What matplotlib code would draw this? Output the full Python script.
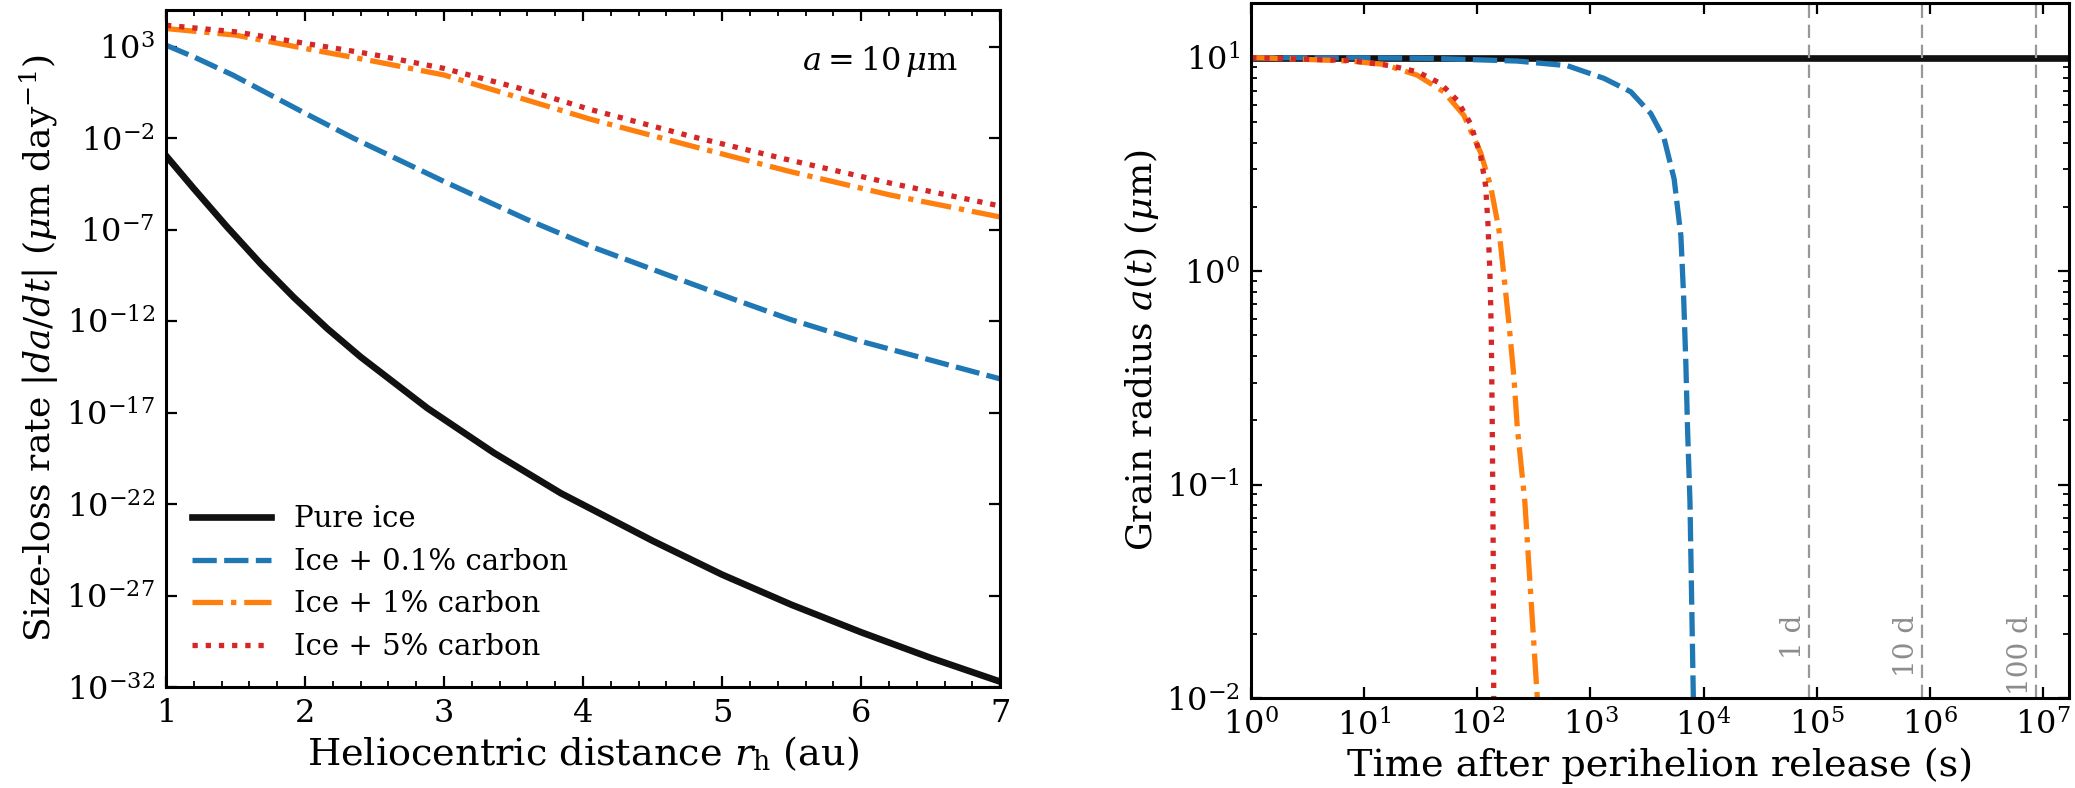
import matplotlib
matplotlib.use("Agg")
import matplotlib.pyplot as plt
import numpy as np
from matplotlib.ticker import MultipleLocator, NullLocator, LogLocator

plt.rcParams["font.family"] = ["DejaVu Serif"]
plt.rcParams["mathtext.fontset"] = "dejavuserif"
plt.rcParams["axes.linewidth"] = 2.2

# left panel: size-loss rate |da/dt| (um/day) vs r_h (au), stored as log10
r_pure = [1.0, 1.2, 1.44, 1.68, 1.92, 2.16, 2.4, 2.88, 3.36, 3.84, 4.5, 5.0, 5.5, 6.0, 6.5, 7.0]
lograte_pure = [-2.95, -4.75, -6.85, -8.85, -10.7, -12.4, -13.95, -16.75, -19.2, -21.4,
                -24.0, -25.85, -27.5, -29.0, -30.4, -31.7]

r_c01 = [1.0, 1.2, 1.48, 2.0, 2.35, 3.0, 3.6, 4.07, 4.69, 5.085, 5.49, 6.0, 7.0]
lograte_c01 = [3.09, 2.45, 1.46, -0.63, -2.0, -4.36, -6.45, -7.95, -9.7, -10.8, -11.9,
               -13.1, -15.15]

r_c1 = [1.0, 1.5, 2.0, 2.49, 3.0, 3.57, 4.05, 4.77, 5.49, 6.21, 7.0]
lograte_c1 = [4.0, 3.64, 2.91, 2.22, 1.46, 0.15, -0.95, -2.4, -3.82, -5.1, -6.3]

r_c5 = [1.0, 1.5, 2.0, 2.49, 3.0, 3.57, 4.05, 4.77, 5.49, 6.21, 7.0]
lograte_c5 = [4.18, 3.82, 3.19, 2.58, 1.82, 0.68, -0.42, -1.88, -3.2, -4.45, -5.7]

# right panel: grain radius (um) vs time after release (s)
t_pure = [1.0, 1.7e7]
a_pure = [10.0, 10.0]

t_c01 = [1, 10, 41, 225, 625, 1318, 2275, 3420, 4490, 5500, 6310, 6670, 6980, 7230, 7590, 8130]
a_c01 = [10.0, 9.98, 9.92, 9.64, 9.17, 8.0, 6.92, 5.47, 4.17, 2.70, 1.46, 0.76, 0.37, 0.18,
         0.083, 0.01]

t_c1 = [1, 1.93, 7.5, 14.9, 29.4, 50.5, 75.9, 106.7, 130.9, 154.9, 171.8, 190.1, 210.4,
        225.4, 263, 339]
a_c1 = [10.0, 9.9, 9.64, 9.3, 8.28, 6.92, 5.37, 3.6, 2.51, 1.57, 0.95, 0.57, 0.32, 0.186,
        0.083, 0.01]

t_c5 = [1, 7.5, 17.0, 29.4, 47.2, 66.4, 87.1, 106.7, 118.3, 123.9, 129.1, 132.7, 135.5,
        138.0, 139.6]
a_c5 = [10.0, 9.7, 9.17, 8.59, 7.57, 6.31, 4.9, 3.48, 2.51, 1.69, 0.98, 0.53, 0.186, 0.05,
        0.01]

days = [1, 10, 100]
day_labels = ["1 d", "10 d", "100 d"]
SEC_PER_DAY = 86400.0

labels = ["Pure ice", "Ice + 0.1% carbon", "Ice + 1% carbon", "Ice + 5% carbon"]
colors = ["#111111", "#1f77b4", "#ff7f0e", "#d62728"]
styles = [dict(ls="-", lw=4.8),
          dict(ls=(0, (4.6, 1.4)), lw=3.8),
          dict(ls=(0, (5.8, 1.5, 1.0, 1.5)), lw=3.8),
          dict(ls=(0, (1.0, 1.5)), lw=3.8)]

fig = plt.figure(figsize=(20.75, 7.88), dpi=100)
ax1 = fig.add_axes([0.080, 0.128, 0.402, 0.859])
ax2 = fig.add_axes([0.603, 0.114, 0.394, 0.882])

left_series = [(r_pure, lograte_pure), (r_c01, lograte_c01), (r_c1, lograte_c1), (r_c5, lograte_c5)]
for (r, lr), lab, c, st in zip(left_series, labels, colors, styles):
    ax1.plot(r, 10.0 ** np.array(lr), color=c, label=lab, **st)
ax1.set_yscale("log")
ax1.set_xlim(1, 7)
ax1.set_ylim(1e-32, 1e5)
ax1.set_yticks([1e-32, 1e-27, 1e-22, 1e-17, 1e-12, 1e-7, 1e-2, 1e3])
ax1.yaxis.set_minor_locator(NullLocator())
ax1.xaxis.set_minor_locator(MultipleLocator(0.2))
ax1.set_xlabel(r"Heliocentric distance $r_{\rm h}$ (au)", fontsize=27.5)
ax1.set_ylabel(r"Size-loss rate $|da/dt|$ ($\mu$m day$^{-1}$)", fontsize=26)
ax1.text(0.95, 0.925, r"$a = 10\,\mu{\rm m}$", transform=ax1.transAxes,
         ha="right", va="center", fontsize=23)
ax1.legend(loc="lower left", frameon=False, fontsize=21, handlelength=2.7,
           handletextpad=0.8, labelspacing=0.5)

right_series = [(t_pure, a_pure), (t_c01, a_c01), (t_c1, a_c1), (t_c5, a_c5)]
for (t, a), c, st in zip(right_series, colors, styles):
    ax2.plot(t, a, color=c, **st)
for d, lab in zip(days, day_labels):
    ts = d * SEC_PER_DAY
    ax2.axvline(ts, color="#999999", lw=1.6, ls=(0, (6, 3)))
    ax2.text(ts * 0.96, 0.0245, lab, rotation=90, ha="right", va="top",
             color="#8c8c8c", fontsize=20)
ax2.set_xscale("log")
ax2.set_yscale("log")
ax2.set_xlim(1, 1.7e7)
ax2.set_ylim(1e-2, 18)
ax2.xaxis.set_major_locator(LogLocator(base=10, numticks=20))
ax2.xaxis.set_minor_locator(NullLocator())
ax2.set_xlabel("Time after perihelion release (s)", fontsize=27.5)
ax2.set_ylabel(r"Grain radius $a(t)$ ($\mu$m)", fontsize=26)

for ax in (ax1, ax2):
    ax.tick_params(which="both", direction="in", top=True, right=True)
    ax.tick_params(which="major", length=8, width=1.6, labelsize=23, pad=8)
    ax.tick_params(which="minor", length=4.5, width=1.3)

fig.savefig("out.png", dpi=100)
